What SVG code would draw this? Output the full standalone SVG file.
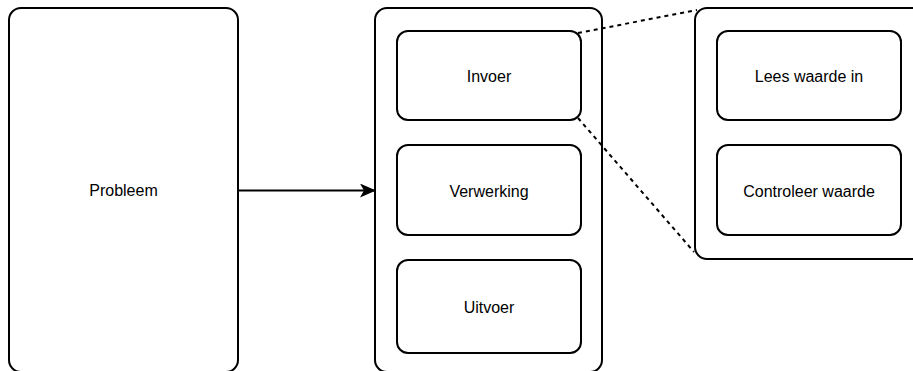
<svg xmlns="http://www.w3.org/2000/svg" width="913" height="371" viewBox="0 0 913 371">
  <defs>
    <style>
      .box { fill: #ffffff; stroke: #000000; stroke-width: 2; }
      .label { font-family: "Liberation Sans", Arial, sans-serif; font-size: 16px; fill: #000000; text-anchor: middle; }
      .edge { fill: none; stroke: #000000; stroke-width: 2; }
      .dash { fill: none; stroke: #000000; stroke-width: 2; stroke-dasharray: 4 4; }
    </style>
    <marker id="arrow" viewBox="0 0 16 14" refX="15" refY="7" markerWidth="16" markerHeight="14" markerUnits="userSpaceOnUse" orient="auto">
      <path d="M0,0 L16,7 L0,14 L4,7 Z" fill="#000000"/>
    </marker>
  </defs>

  <!-- Problem -->
  <g id="probleem">
    <rect class="box" x="9" y="8" width="229" height="364" rx="12" ry="12"/>
    <text class="label" x="123.5" y="196">Probleem</text>
  </g>

  <!-- Program container with its three parts -->
  <g id="programma">
    <rect class="box" x="375" y="8" width="227" height="364" rx="12" ry="12"/>
  </g>
  <g id="invoer">
    <rect class="box" x="397" y="31" width="184" height="89" rx="11" ry="11"/>
    <text class="label" x="489" y="82">Invoer</text>
  </g>
  <g id="verwerking">
    <rect class="box" x="397" y="145" width="184" height="90" rx="11" ry="11"/>
    <text class="label" x="489" y="197">Verwerking</text>
  </g>
  <g id="uitvoer">
    <rect class="box" x="397" y="260" width="184" height="93" rx="11" ry="11"/>
    <text class="label" x="489" y="313">Uitvoer</text>
  </g>

  <!-- Detail of the input step -->
  <g id="invoer-detail">
    <rect class="box" x="695" y="8" width="240" height="251" rx="12" ry="12"/>
  </g>
  <g id="lees-waarde">
    <rect class="box" x="717" y="31" width="184" height="89" rx="11" ry="11"/>
    <text class="label" x="809" y="82">Lees waarde in</text>
  </g>
  <g id="controleer-waarde">
    <rect class="box" x="717" y="145" width="184" height="90" rx="11" ry="11"/>
    <text class="label" x="809" y="197">Controleer waarde</text>
  </g>

  <!-- Connectors -->
  <g id="connectors">
    <path class="edge" d="M238,190.5 L375,190.5" marker-end="url(#arrow)"/>
    <path class="dash" d="M578,33 L697,10"/>
    <path class="dash" d="M578,118 L694,252"/>
  </g>
</svg>
